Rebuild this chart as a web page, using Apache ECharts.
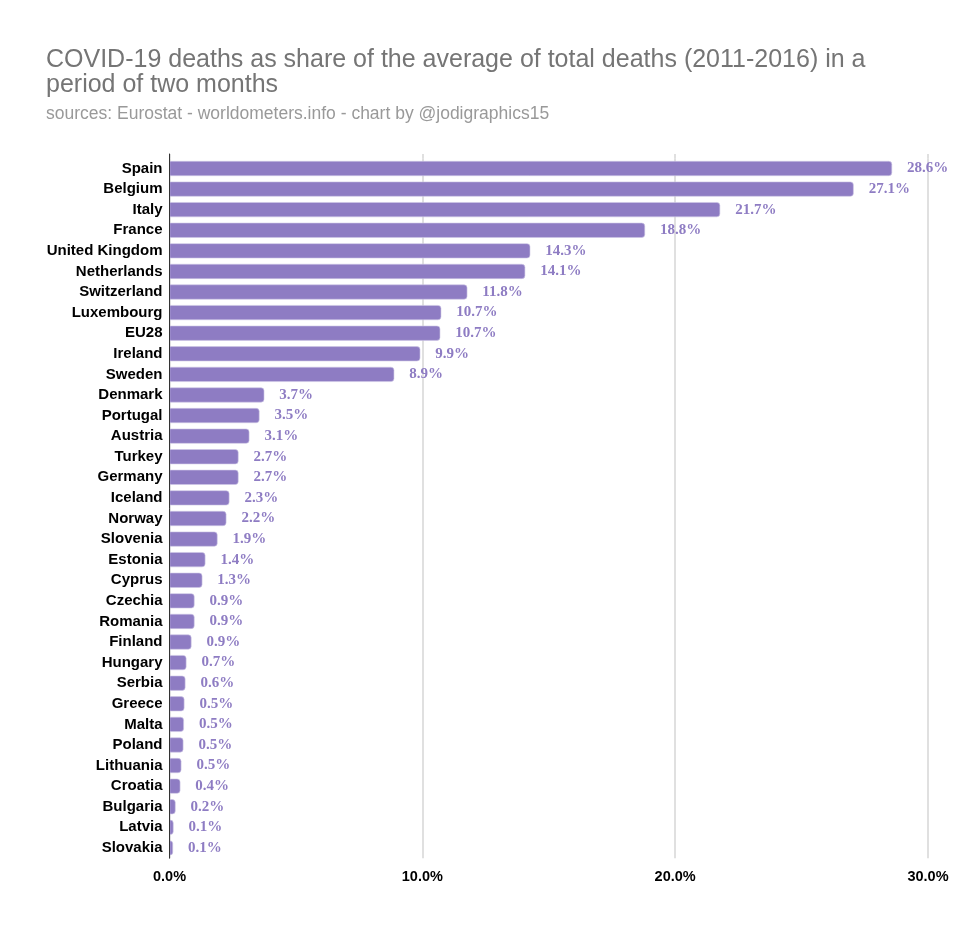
<!DOCTYPE html>
<html>
<head>
<meta charset="utf-8">
<title>COVID-19 deaths as share of total deaths</title>
<script src="https://cdn.jsdelivr.net/npm/echarts@6/dist/echarts.min.js"></script>
<style>
  html, body { margin: 0; padding: 0; background: #fff; }
  #chart { width: 975px; height: 930px; }
</style>
</head>
<body>
<div id="chart"></div>
<script>
const countries = ['Spain', 'Belgium', 'Italy', 'France', 'United Kingdom', 'Netherlands', 'Switzerland',
  'Luxembourg', 'EU28', 'Ireland', 'Sweden', 'Denmark', 'Portugal', 'Austria', 'Turkey', 'Germany',
  'Iceland', 'Norway', 'Slovenia', 'Estonia', 'Cyprus', 'Czechia', 'Romania', 'Finland', 'Hungary',
  'Serbia', 'Greece', 'Malta', 'Poland', 'Lithuania', 'Croatia', 'Bulgaria', 'Latvia', 'Slovakia'];

// bar lengths
const shares = [28.58, 27.06, 21.78, 18.81, 14.27, 14.07, 11.78, 10.75, 10.71, 9.92, 8.89, 3.75, 3.56,
  3.16, 2.73, 2.73, 2.37, 2.25, 1.9, 1.42, 1.3, 0.99, 0.99, 0.87, 0.67, 0.63, 0.59, 0.57, 0.55, 0.47,
  0.43, 0.24, 0.16, 0.14];

// the printed labels are truncated, not rounded
const shareLabels = ['28.6%', '27.1%', '21.7%', '18.8%', '14.3%', '14.1%', '11.8%', '10.7%', '10.7%',
  '9.9%', '8.9%', '3.7%', '3.5%', '3.1%', '2.7%', '2.7%', '2.3%', '2.2%', '1.9%', '1.4%', '1.3%', '0.9%',
  '0.9%', '0.9%', '0.7%', '0.6%', '0.5%', '0.5%', '0.5%', '0.5%', '0.4%', '0.2%', '0.1%', '0.1%'];

const titleText = 'COVID-19 deaths as share of the average of total deaths (2011-2016) in a\nperiod of two months';
const subtitleText = 'sources: Eurostat - worldometers.info - chart by @jodigraphics15';

const axisMin = 0;
const axisMax = 30;
const axisStep = 10;

const chart = echarts.init(document.getElementById('chart'), null, { renderer: 'canvas' });

const font = '"Liberation Sans", Arial, sans-serif';
const gridColor = '#d6d6d6';

chart.setOption({
  animation: false,
  backgroundColor: '#ffffff',
  title: {
    left: 46,
    top: 48,
    padding: 0,
    itemGap: 7,
    text: titleText,
    textStyle: { fontFamily: font, fontSize: 25, fontWeight: 'normal', color: '#757575', lineHeight: 24.5 },
    subtext: subtitleText,
    subtextStyle: { fontFamily: font, fontSize: 17.5, color: '#999999', lineHeight: 20 }
  },
  grid: [
    { left: 169.5, top: 158.2, width: 758.5, height: 700 },
    // short stub above the first band: rules start a few px over the bars
    { left: 169.5, top: 154, width: 758.5, height: 4.2 }
  ],
  xAxis: [
    {
      type: 'value',
      gridIndex: 0,
      min: axisMin,
      max: axisMax,
      interval: axisStep,
      axisLine: { show: false },
      axisTick: { show: false },
      splitLine: { lineStyle: { color: gridColor, width: 1.5 } },
      axisLabel: {
        margin: 11,
        fontFamily: font,
        fontSize: 14.5,
        fontWeight: 'bold',
        color: '#000000',
        formatter: v => v.toFixed(1) + '%'
      }
    },
    {
      type: 'value',
      gridIndex: 1,
      min: axisMin,
      max: axisMax,
      interval: axisStep,
      axisLine: { show: false },
      axisTick: { show: false },
      axisLabel: { show: false },
      splitLine: { lineStyle: { color: gridColor, width: 1.5 } }
    }
  ],
  yAxis: [
    {
      type: 'category',
      gridIndex: 0,
      inverse: true,
      z: 5,
      data: countries,
      axisLine: { lineStyle: { color: '#333333', width: 1 } },
      axisTick: { show: false },
      axisLabel: {
        interval: 0,
        margin: 7,
        fontFamily: font,
        fontSize: 15,
        fontWeight: 'bold',
        color: '#000000'
      }
    },
    {
      type: 'category',
      gridIndex: 1,
      z: 5,
      data: [''],
      axisLine: { lineStyle: { color: '#333333', width: 1 } },
      axisTick: { show: false },
      axisLabel: { show: false }
    }
  ],
  series: [
    {
      type: 'bar',
      xAxisIndex: 0,
      yAxisIndex: 0,
      data: shares,
      barWidth: 15,
      itemStyle: { color: '#8e7cc3', borderColor: '#cfc7e6', borderWidth: 0.6, borderRadius: [0, 3, 3, 0] },
      label: {
        show: true,
        position: 'right',
        distance: 15,
        fontFamily: '"Liberation Serif", "Times New Roman", serif',
        fontSize: 15,
        fontWeight: 'bold',
        color: '#8e7cc3',
        formatter: p => shareLabels[p.dataIndex]
      }
    }
  ]
});
</script>
</body>
</html>
